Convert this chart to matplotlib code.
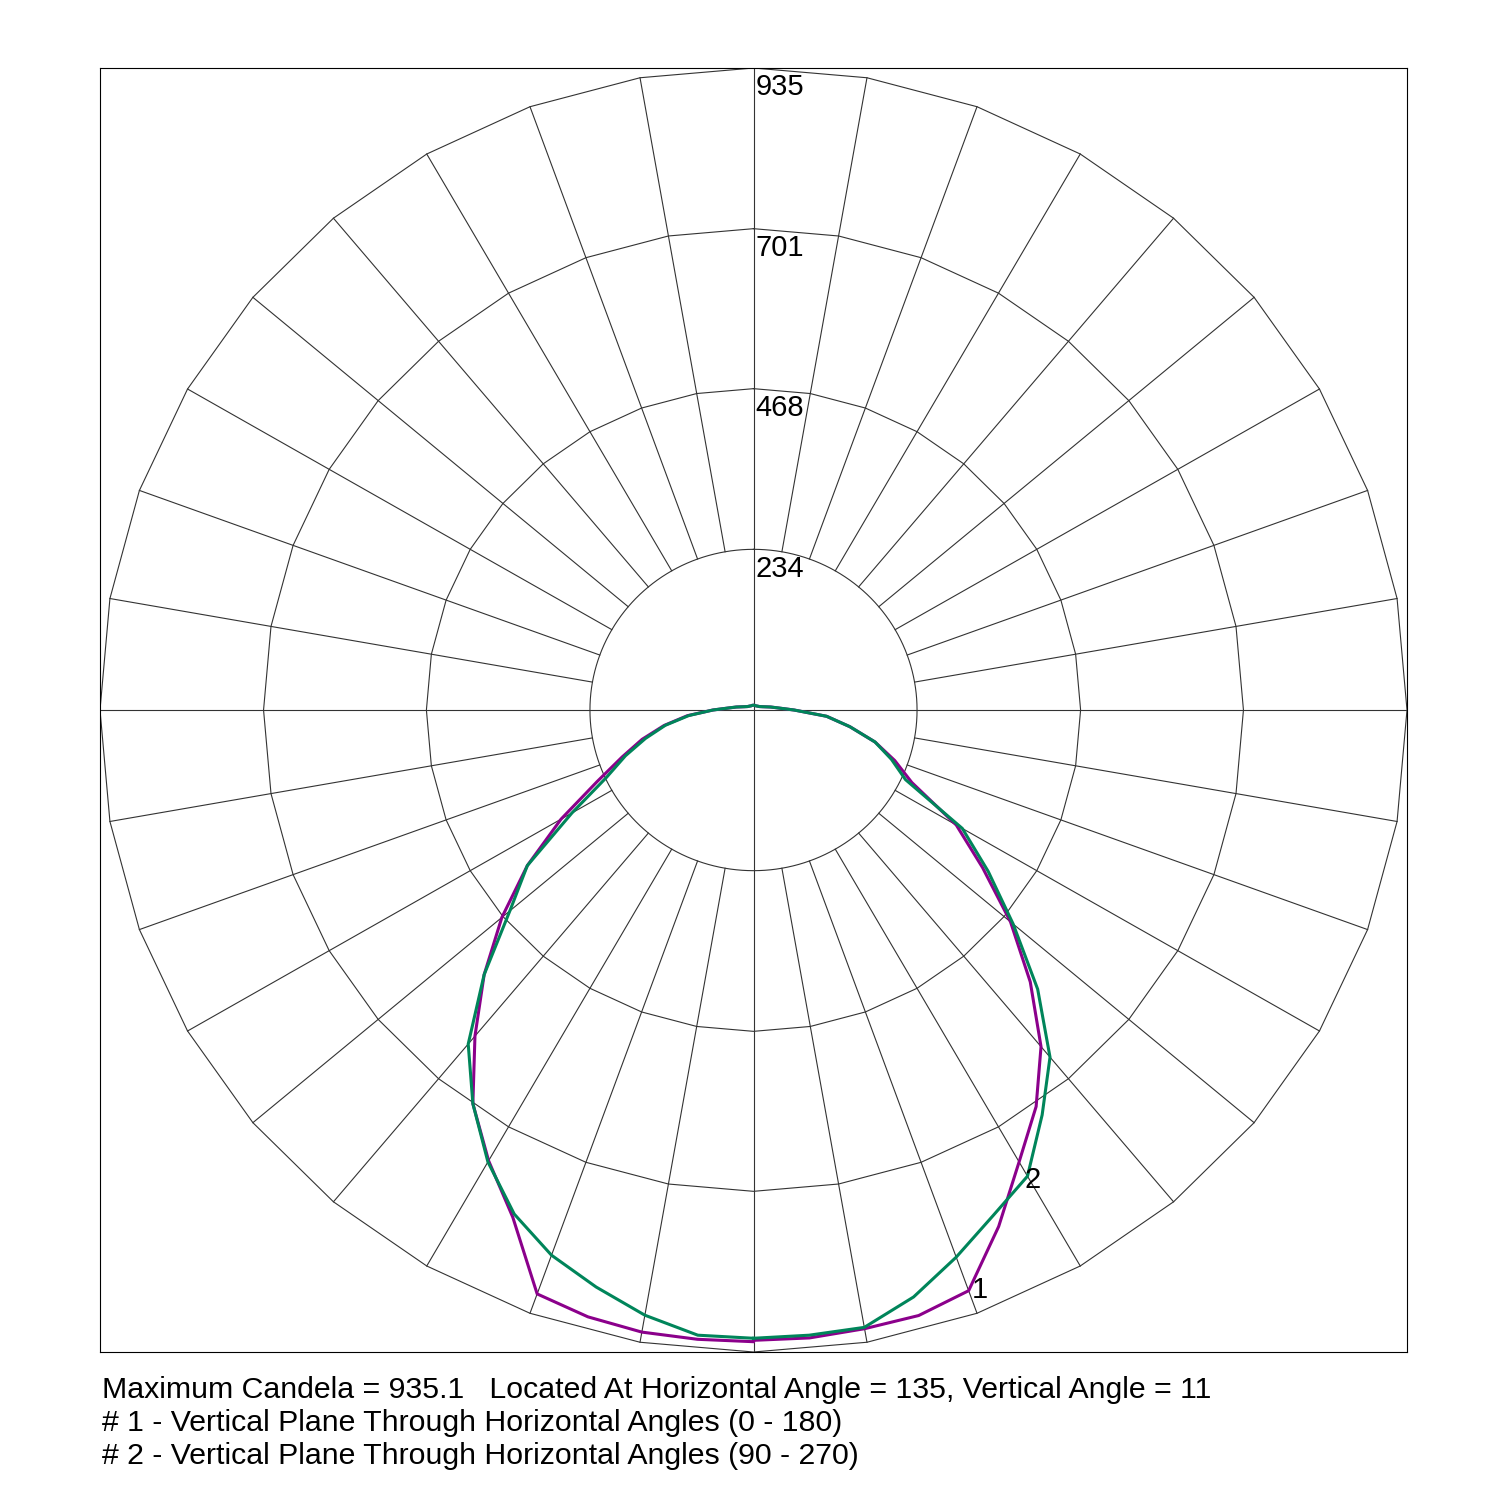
import numpy as np
import matplotlib.pyplot as plt

plt.rcParams['font.family'] = ['Liberation Sans', 'DejaVu Sans']

# vertical angles (0 = nadir) and candela values
ang = [0, 5, 10, 15, 20, 25, 30, 35, 40, 45, 50, 55, 60, 65, 70, 75, 80, 85, 90, 95, 100, 110, 120, 135, 150, 165, 180]
p1_right = [918, 918, 915, 913, 900, 830, 760, 705, 640, 560, 480, 400, 335, 250, 215, 180, 140, 105, 58, 35, 25, 14, 10, 8, 7, 7, 7]
p1_left = [920, 920, 920, 915, 905, 815, 758, 700, 620, 545, 470, 395, 318, 247, 200, 165, 130, 95, 58, 35, 25, 14, 10, 8, 7, 7, 7]
p2_right = [915, 914, 913, 885, 848, 812, 784, 720, 660, 575, 485, 410, 345, 240, 210, 180, 140, 105, 58, 35, 25, 14, 10, 8, 7, 7, 7]
p2_left = [915, 914, 895, 870, 845, 810, 760, 700, 635, 545, 455, 395, 300, 232, 195, 160, 128, 93, 58, 35, 25, 14, 10, 8, 7, 7, 7]
rings = [234, 468, 701, 935]
max_cd = 935

fig = plt.figure(figsize=(15, 15), dpi=100)
ax = fig.add_axes([100 / 1500, 148 / 1500, 1307 / 1500, 1284 / 1500])
ax.set_xlim(-max_cd, max_cd)
ax.set_ylim(-max_cd, max_cd)
ax.set_xticks([])
ax.set_yticks([])
for s in ax.spines.values():
    s.set_linewidth(0.8)

lw = 0.8
gc = '#333333'
# smooth inner ring, polygonal outer rings
t = np.linspace(0, 2 * np.pi, 361)
ax.plot(rings[0] * np.sin(t), rings[0] * np.cos(t), color=gc, lw=lw)
tp = np.radians(np.arange(0, 361, 10))
for r in rings[1:]:
    ax.plot(r * np.sin(tp), r * np.cos(tp), color=gc, lw=lw)
for a in np.arange(0, 360, 10):
    if a % 90 == 0:
        continue
    ar = np.radians(a)
    ax.plot([rings[0] * np.sin(ar), max_cd * np.sin(ar)],
            [rings[0] * np.cos(ar), max_cd * np.cos(ar)], color=gc, lw=lw)
ax.plot([-max_cd, max_cd], [0, 0], color=gc, lw=lw)
ax.plot([0, 0], [-max_cd, max_cd], color=gc, lw=lw)

for r in rings:
    ax.text(3, r - 8, str(r), ha='left', va='top', fontsize=21)


def curve(right, left):
    a = np.radians(ang)
    r = np.array(right)
    l = np.array(left)
    x = np.concatenate([r * np.sin(a), (-l * np.sin(a))[::-1]])
    y = np.concatenate([-r * np.cos(a), (-l * np.cos(a))[::-1]])
    return x, y


x1, y1 = curve(p1_right, p1_left)
x2, y2 = curve(p2_right, p2_left)
ax.plot(x1, y1, color='#8B008B', lw=2.2)
ax.plot(x2, y2, color='#00855A', lw=2.2)

ax.text(312, -845, '1', fontsize=21, ha='left', va='center')
ax.text(388, -685, '2', fontsize=21, ha='left', va='center')

foot = ['Maximum Candela = 935.1   Located At Horizontal Angle = 135, Vertical Angle = 11',
        '# 1 - Vertical Plane Through Horizontal Angles (0 - 180)',
        '# 2 - Vertical Plane Through Horizontal Angles (90 - 270)']
for i, s in enumerate(foot):
    fig.text(102 / 1500, 1 - (1390 + 33 * i) / 1500, s, fontsize=21.8, ha='left', va='center')

fig.savefig('out.png', dpi=100)
